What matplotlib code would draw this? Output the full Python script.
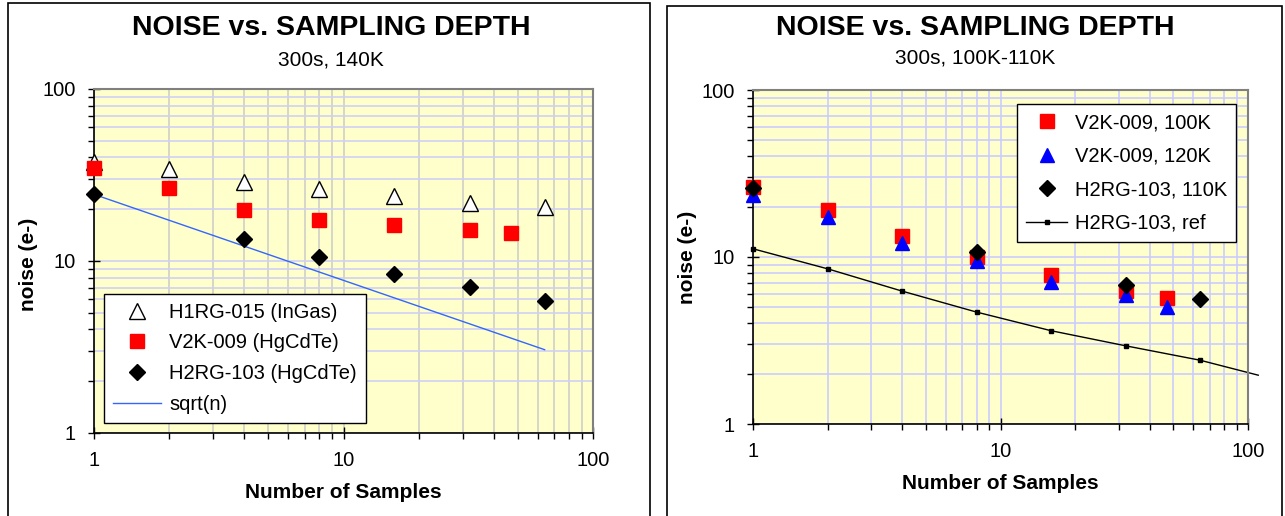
import matplotlib
matplotlib.use("Agg")
import matplotlib.pyplot as plt
from matplotlib.patches import Rectangle
from matplotlib.ticker import LogLocator, NullFormatter, FixedLocator, FixedFormatter

plt.rcParams['font.family'] = ['Liberation Sans', 'DejaVu Sans']

# Left panel data (300s, 140K)
h1rg_n = [1, 2, 4, 8, 16, 32, 64]
h1rg_noise = [37.5, 34.2, 28.7, 26.1, 23.9, 21.8, 20.7]
v2k_n = [1, 2, 4, 8, 16, 32, 47]
v2k_noise = [34.9, 26.6, 19.8, 17.4, 16.1, 15.1, 14.6]
h2rg_n = [1, 4, 8, 16, 32, 64]
h2rg_noise = [24.4, 13.4, 10.6, 8.45, 7.1, 5.88]
sqrt_n = [1, 64]
sqrt_noise = [24.4, 3.05]

# Right panel data (300s, 100K-110K)
v2k100_n = [1, 2, 4, 8, 16, 32, 47]
v2k100_noise = [26.2, 19.1, 13.4, 10.0, 7.8, 6.3, 5.7]
v2k120_n = [1, 2, 4, 8, 16, 32, 47]
v2k120_noise = [23.4, 17.4, 12.1, 9.4, 7.1, 5.9, 5.0]
h2rg110_n = [1, 8, 32, 64]
h2rg110_noise = [25.8, 10.7, 6.8, 5.6]
ref_n = [1, 2, 4, 8, 16, 32, 64, 110]
ref_noise = [11.2, 8.5, 6.25, 4.68, 3.62, 2.94, 2.41, 1.96]

x_ticks = [1, 10, 100]
y_ticks = [1, 10, 100]
tick_labels = ['1', '10', '100']

BG = '#ffffcc'
W, H = 1285, 516

fig = plt.figure(figsize=(W / 100, H / 100), dpi=100)

# panel frames
fig.patches.append(Rectangle((8 / W, -0.1), 642 / W, 1.1 - 3 / H, transform=fig.transFigure,
                             fill=False, edgecolor='black', linewidth=1.2))
fig.patches.append(Rectangle((667 / W, -0.1), 615 / W, 1.1 - 6 / H, transform=fig.transFigure,
                             fill=False, edgecolor='black', linewidth=1.2))


def style_axes(ax, hgrid, vgrid):
    ax.set_xscale('log')
    ax.set_yscale('log')
    ax.set_xlim(1, 100)
    ax.set_ylim(1, 100)
    ax.set_facecolor(BG)
    ax.xaxis.set_major_locator(FixedLocator(x_ticks))
    ax.xaxis.set_major_formatter(FixedFormatter(tick_labels))
    ax.yaxis.set_major_locator(FixedLocator(y_ticks))
    ax.yaxis.set_major_formatter(FixedFormatter(tick_labels))
    ax.xaxis.set_minor_locator(LogLocator(base=10, subs=range(2, 10)))
    ax.yaxis.set_minor_locator(LogLocator(base=10, subs=range(2, 10)))
    ax.xaxis.set_minor_formatter(NullFormatter())
    ax.yaxis.set_minor_formatter(NullFormatter())
    ax.grid(True, which='both', axis='y', color=hgrid, linewidth=1.2)
    ax.grid(True, which='both', axis='x', color=vgrid, linewidth=1.2)
    ax.set_axisbelow(True)
    ax.tick_params(which='major', direction='inout', length=8, width=1, labelsize=14.5, pad=9)
    ax.tick_params(which='minor', direction='out', length=4, width=1)
    for s in ['top', 'right']:
        ax.spines[s].set_color('#808080')
        ax.spines[s].set_linewidth(1.5)
    for s in ['left', 'bottom']:
        ax.spines[s].set_color('black')
        ax.spines[s].set_linewidth(1.2)
    ax.set_xlabel('Number of Samples', fontsize=15, fontweight='bold', labelpad=9)


# ---- left panel ----
ax1 = fig.add_axes([94 / W, 1 - 433 / H, 499 / W, 344 / H])
style_axes(ax1, '#d0d0f4', '#cfcfc8')
ax1.plot(h1rg_n, h1rg_noise, linestyle='none', marker='^', markersize=11,
         markerfacecolor='white', markeredgecolor='black', markeredgewidth=1,
         label='H1RG-015 (InGas)', clip_on=False, zorder=3)
ax1.plot(v2k_n, v2k_noise, linestyle='none', marker='s', markersize=9.5,
         color='#ff0000', label='V2K-009 (HgCdTe)', clip_on=False, zorder=4)
ax1.plot(h2rg_n, h2rg_noise, linestyle='none', marker='D', markersize=8,
         color='black', label='H2RG-103 (HgCdTe)', clip_on=False, zorder=5)
ax1.plot(sqrt_n, sqrt_noise, color='#3366ff', linewidth=1, label='sqrt(n)', zorder=2)
leg1 = ax1.legend(loc='lower left', bbox_to_anchor=(0.02, 0.03), borderaxespad=0,
                  fontsize=14.5, frameon=True, fancybox=False, framealpha=1,
                  edgecolor='black', labelspacing=0.58, handlelength=2.4,
                  handletextpad=0.4, borderpad=0.45)
leg1.get_frame().set_linewidth(1)
ax1.set_ylabel('noise (e-)', fontsize=15, fontweight='bold')
ax1.yaxis.set_label_coords(-56 / 499, 0.49)
fig.text(331 / W, 1 - 28 / H, 'NOISE vs. SAMPLING DEPTH', ha='center', va='center',
         fontsize=20.5, fontweight='bold')
fig.text(331 / W, 1 - 60 / H, '300s, 140K', ha='center', va='center', fontsize=15)

# ---- right panel ----
ax2 = fig.add_axes([753 / W, 1 - 424 / H, 495 / W, 334 / H])
style_axes(ax2, '#ccccff', '#ccccff')
ax2.plot(v2k100_n, v2k100_noise, linestyle='none', marker='s', markersize=9.5,
         color='#ff0000', label='V2K-009, 100K', clip_on=False, zorder=3)
ax2.plot(v2k120_n, v2k120_noise, linestyle='none', marker='^', markersize=10.5,
         color='#0000ff', label='V2K-009, 120K', clip_on=False, zorder=4)
ax2.plot(h2rg110_n, h2rg110_noise, linestyle='none', marker='D', markersize=8,
         color='black', label='H2RG-103, 110K', clip_on=False, zorder=5)
ax2.plot(ref_n, ref_noise, color='black', linewidth=1, marker='s', markersize=3.5,
         markevery=list(range(len(ref_n) - 1)), label='H2RG-103, ref',
         clip_on=False, zorder=2)
leg2 = ax2.legend(loc='upper right', bbox_to_anchor=(0.976, 0.958), borderaxespad=0,
                  fontsize=14.5, frameon=True, fancybox=False, framealpha=1,
                  edgecolor='black', labelspacing=0.72, handlelength=2.0,
                  handletextpad=0.4, borderpad=0.45)
leg2.get_frame().set_linewidth(1)
ax2.set_ylabel('noise (e-)', fontsize=15, fontweight='bold')
ax2.yaxis.set_label_coords(-56 / 495, 0.5)
fig.text(975 / W, 1 - 28 / H, 'NOISE vs. SAMPLING DEPTH', ha='center', va='center',
         fontsize=20.5, fontweight='bold')
fig.text(975 / W, 1 - 58 / H, '300s, 100K-110K', ha='center', va='center', fontsize=15)

fig.savefig('out.png', dpi=100, facecolor='white')
